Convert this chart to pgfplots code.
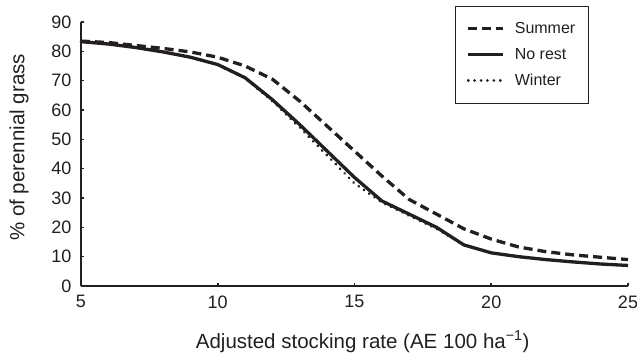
\documentclass[border=0pt]{standalone}
\usepackage{fontspec}
\setmainfont{Liberation Sans}
\usepackage{pgfplots}
\pgfplotsset{compat=1.18}
\definecolor{ink}{HTML}{231F20}
\begin{document}
\begin{tikzpicture}
\useasboundingbox (-81bp,-68bp) rectangle (556bp,286bp);
\begin{axis}[
  at={(0,0)}, anchor=south west,
  scale only axis, width=547bp, height=264bp,
  xmin=5, xmax=25, ymin=0, ymax=90,
  xtick={5,10,15,20,25}, ytick={0,10,...,90},
  axis x line=bottom, axis y line=left,
  axis line style={-, line width=1.4bp, color=ink},
  tick align=inside, major tick length=3bp,
  tick style={line width=1.6bp, color=ink},
  /pgf/number format/assume math mode=true,
  tick label style={font=\fontsize{18bp}{21bp}\selectfont, text=ink},
  xticklabel style={anchor=north, yshift=-6bp},
  yticklabel style={anchor=east, xshift=-6bp},
  xlabel={Adjusted stocking rate (AE 100 ha\textsuperscript{−1})},
  ylabel={\% of perennial grass},
  label style={font=\fontsize{20.5bp}{24bp}\selectfont, text=ink},
  xlabel style={at={(axis description cs:0.515,0)}, anchor=base, yshift=-62bp},
  ylabel style={at={(axis description cs:0,0.525)}, anchor=center, yshift=62bp},
  legend style={at={(rel axis cs:0.684,1.061)}, anchor=north west,
    draw=ink, line width=0.8bp, font=\fontsize{16bp}{19bp}\selectfont,
    row sep=9bp, column sep=8bp, inner xsep=11bp, inner ysep=14bp,
    cells={anchor=west, text=ink, text height=11.5bp, text depth=3bp, inner sep=1bp}},
  legend image code/.code={\draw[#1] (0bp,0bp) -- (35bp,0bp);},
  clip=false,
]
\addplot[ink, line width=3.3bp, dash pattern=on 9bp off 5bp] coordinates {
(5,83.5)(6,83)(7,82)(8,81)(9,79.8)(10,78)(11,75)(12,70.5)(13,63)(14,54.5)
(15,46)(16,37.5)(17,29.5)(18,24.5)(19,19.5)(20,16)(21,13.3)(22,11.7)(23,10.6)(24,9.8)(25,9)};
\addlegendentry{Summer}
\addplot[ink, line width=3.3bp] coordinates {
(5,83.3)(6,82.5)(7,81.3)(8,79.8)(9,78)(10,75.5)(11,71)(12,63.5)(13,55)(14,46)
(15,37)(16,29)(17,24.5)(18,20)(19,14)(20,11.3)(21,10)(22,9)(23,8.2)(24,7.5)(25,7)};
\addlegendentry{No rest}
\addplot[ink, line width=2.9bp, line cap=round, dash pattern=on 0.1bp off 6.3bp] coordinates {
(5,83.3)(6,82.5)(7,81.3)(8,79.8)(9,78)(10,75.5)(11,70.8)(12,63)(13,54)(14,44.5)
(15,35)(16,28.5)(17,24)(18,19.5)(19,14)(20,11.3)(21,10)(22,9)(23,8.2)(24,7.5)(25,7)};
\addlegendentry{Winter}
\end{axis}
\end{tikzpicture}
\end{document}
